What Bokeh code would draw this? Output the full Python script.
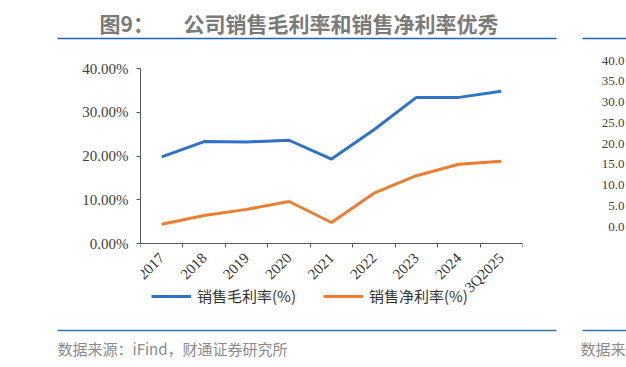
from bokeh.plotting import figure
from bokeh.models import Range1d, FixedTicker, NumeralTickFormatter, Legend, LegendItem, Label
from bokeh.layouts import column, row
from bokeh.embed import file_html
from bokeh.resources import INLINE
from bokeh.core.properties import value
import math

# ---- data ----
categories = ["2017", "2018", "2019", "2020", "2021", "2022", "2023", "2024", "3Q2025"]
gross_margin = [0.198, 0.233, 0.232, 0.236, 0.193, 0.260, 0.334, 0.334, 0.348]
net_margin = [0.044, 0.064, 0.078, 0.096, 0.048, 0.115, 0.155, 0.181, 0.188]
y_ticks = [0.0, 0.1, 0.2, 0.3, 0.4]
series_names = ["销售毛利率(%)", "销售净利率(%)"]
title_prefix = "图9："
title_text = "公司销售毛利率和销售净利率优秀"
source_text = "数据来源：iFind，财通证券研究所"
# fragment of the neighbouring chart at the right edge
next_tick_values = [40, 35, 30, 25, 20, 15, 10, 5, 0]
next_tick_labels = ["40.0", "35.0", "30.0", "25.0", "20.0", "15.0", "10.0", "5.0", "0.0"]
next_source = "数据来"

BLUE = "#2F72C6"
ORANGE = "#ED7D31"
RULE = "#1F63B5"
W = 626

CJK = "Noto Sans CJK SC"
SERIF = "Liberation Serif"

def blank(w, h, x_range=None, y_range=None):
    f = figure(width=w, height=h,
               x_range=x_range if x_range is not None else Range1d(0, w),
               y_range=y_range if y_range is not None else Range1d(h, 0),
               output_backend="svg", toolbar_location=None, min_border=0)
    f.axis.visible = False
    f.grid.visible = False
    f.outline_line_color = None
    f.frame_align = False
    return f

# ---- header ----
head = blank(W, 46)
head.add_layout(Label(x=99, y=22, text=title_prefix, text_font=CJK, text_font_size="21px",
                      text_font_style="bold", text_color="#7a7a7a", text_baseline="middle"))
head.add_layout(Label(x=183, y=22, text=title_text, text_font=CJK, text_font_size="21px",
                      text_font_style="bold", text_color="#7a7a7a", text_baseline="middle"))
head.segment(x0=[57, 582], y0=[38, 38], x1=[556, 626], y1=[38, 38], line_color=RULE, line_width=1.6)

# ---- chart ----
H = 272
TOP = 22
CW = 598
frame_h = H - TOP
y_top = 0.4
y_start = y_top - y_top * frame_h / 175.0   # 0 sits 175 px below the 40% line
xs = [i + 0.5 for i in range(len(categories))]
p = figure(width=CW, height=H, x_range=Range1d(0, len(categories)), y_range=Range1d(y_start, y_top),
           output_backend="svg", toolbar_location=None,
           min_border_left=140, min_border_right=CW - 522, min_border_top=TOP, min_border_bottom=0)
p.frame_align = False
p.outline_line_color = None
p.grid.visible = False

r1 = p.line(xs, gross_margin, line_color=BLUE, line_width=3)
r2 = p.line(xs, net_margin, line_color=ORANGE, line_width=3)

p.yaxis.ticker = FixedTicker(ticks=y_ticks)
p.yaxis.bounds = (0, y_top)
p.yaxis.formatter = NumeralTickFormatter(format="0.00%")
p.yaxis.major_label_text_font = SERIF
p.yaxis.major_label_text_font_size = "15px"
p.yaxis.major_label_text_color = "#404040"
p.yaxis.major_label_standoff = 8

p.xaxis.fixed_location = 0
p.xaxis.ticker = FixedTicker(ticks=xs, minor_ticks=list(range(len(categories) + 1)))
p.xaxis.major_label_overrides = {x: c for x, c in zip(xs, categories)}
p.xaxis.major_label_orientation = math.pi / 4
p.xaxis.major_label_text_font = SERIF
p.xaxis.major_label_text_font_size = "15px"
p.xaxis.major_label_text_color = "#333333"
p.xaxis.major_label_standoff = 8

for ax in (p.xaxis, p.yaxis):
    ax.axis_line_color = "#595959"
    ax.major_tick_out = 4
    ax.major_tick_in = 0
p.xaxis.major_tick_line_color = None
p.xaxis.minor_tick_out = 4
p.xaxis.minor_tick_in = 0
p.xaxis.minor_tick_line_color = "#595959"
p.yaxis.minor_tick_line_color = None
p.yaxis.major_tick_line_color = "#595959"

legend = Legend(items=[LegendItem(label=series_names[0], renderers=[r1]),
                       LegendItem(label=series_names[1], renderers=[r2])],
                location=(11, 12), orientation="horizontal", padding=0, margin=0,
                spacing=27, glyph_width=40, glyph_height=20, label_standoff=6,
                label_text_font=CJK, label_text_font_size="15px", label_text_color="#333333",
                border_line_color=None, background_fill_alpha=0)
p.add_layout(legend)

# ---- right-edge fragment of the next chart (its value axis labels) ----
SW = W - CW
px_per_unit = 166 / 40.0
strip = blank(SW, H, x_range=Range1d(0, SW),
              y_range=Range1d(-(H - 180) / px_per_unit, 40 + 14 / px_per_unit))
strip.text(x=[SW - 2] * len(next_tick_values), y=next_tick_values, text=next_tick_labels,
           text_font=value(SERIF), text_font_size="13px", text_color="#404040",
           text_align="right", text_baseline="middle")

# ---- footer ----
foot = blank(W, 49)
foot.segment(x0=[57, 582], y0=[12, 12], x1=[556, 626], y1=[12, 12], line_color="#2E75B6", line_width=1.6)
foot.add_layout(Label(x=57, y=30, text=source_text, text_font=CJK, text_font_size="15px",
                      text_color="#8a8a8a", text_baseline="middle"))
foot.add_layout(Label(x=580, y=30, text=next_source, text_font=CJK, text_font_size="15px",
                      text_color="#8a8a8a", text_baseline="middle"))

layout = column(head, row(p, strip, spacing=0), foot, spacing=0)
open("out.html", "w").write(file_html(layout, INLINE))
